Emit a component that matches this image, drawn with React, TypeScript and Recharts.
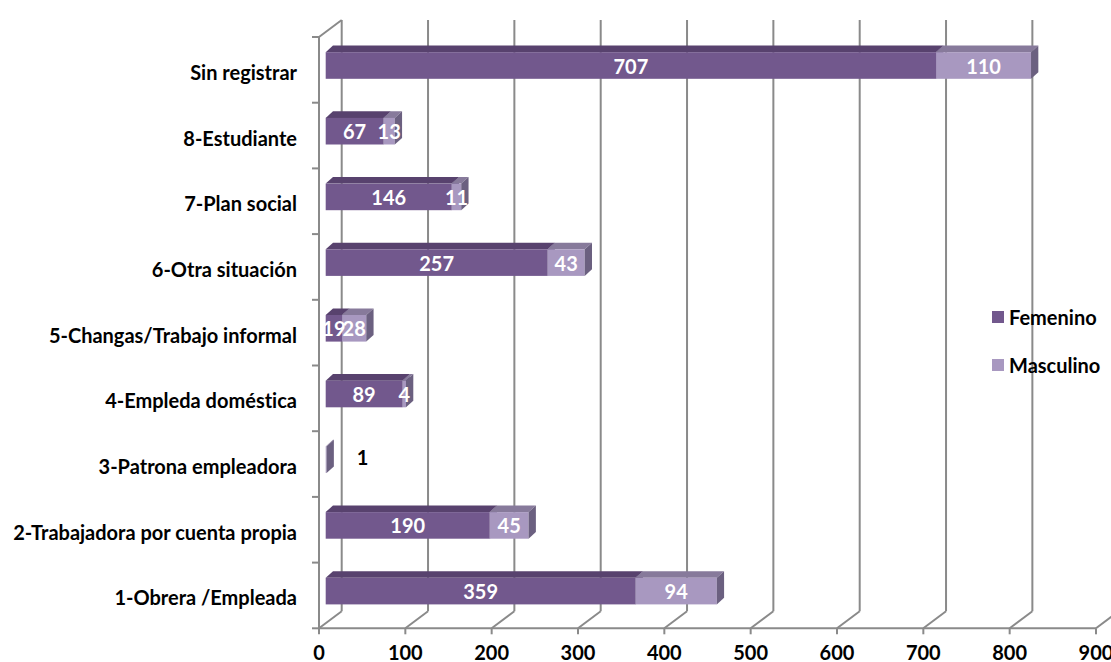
import {
  BarChart,
  Bar,
  XAxis,
  YAxis,
  CartesianGrid,
  Legend,
  LabelList,
} from 'recharts';

const CATEGORIES = [
  'Sin registrar',
  '8-Estudiante',
  '7-Plan social',
  '6-Otra situación',
  '5-Changas/Trabajo informal',
  '4-Empleda doméstica',
  '3-Patrona empleadora',
  '2-Trabajadora por cuenta propia',
  '1-Obrera /Empleada',
];
const FEMENINO = [707, 67, 146, 257, 19, 89, null, 190, 359];
const MASCULINO = [110, 13, 11, 43, 28, 4, 1, 45, 94];
const X_TICKS = [0, 100, 200, 300, 400, 500, 600, 700, 800, 900];

const data = CATEGORIES.map((name, i) => ({
  name,
  fem: FEMENINO[i],
  masc: MASCULINO[i],
}));

const FONT = 'Lato, "DejaVu Sans", sans-serif';
const TEXT_STYLE = { fontVariantLigatures: 'none' as const };
const GRID = '#8a8a8a';

// 3D offsets relative to the bar plane (the recharts plot area)
const FRONT_DX = -6.7;
const FRONT_DY = 4.8;
const BACK_DX = 16;
const BACK_DY = -12.2;
const DEPTH_X = 7.3;
const DEPTH_Y = 6.6;

const COLORS = {
  fem: { front: '#72588d', top: '#58426e', side: '#5f4c78' },
  masc: { front: '#a898c0', top: '#877a9b', side: '#6b6080' },
};

// eslint-disable-next-line @typescript-eslint/no-explicit-any
function Box3D(props: any) {
  const { x, y, width, height, front, top, side } = props;
  if (!(width > 0) || !(height > 0)) return null;
  const r = x + width;
  return (
    <g>
      <polygon
        points={`${x},${y} ${x + DEPTH_X},${y - DEPTH_Y} ${r + DEPTH_X},${y - DEPTH_Y} ${r},${y}`}
        fill={top}
      />
      <rect x={x} y={y} width={width} height={height} fill={front} />
      <polygon
        points={`${r},${y} ${r + DEPTH_X},${y - DEPTH_Y} ${r + DEPTH_X},${y + height - DEPTH_Y} ${r},${y + height}`}
        fill={side}
      />
    </g>
  );
}

// eslint-disable-next-line @typescript-eslint/no-explicit-any
function renderValue(p: any) {
  const { x, y, width, height, value } = p;
  if (value == null || value === 0) return null;
  const cy = Number(y) + Number(height) / 2;
  // too thin to hold its number: put it outside, in black
  if (Number(width) < 3) {
    return (
      <text x={Number(x) + Number(width) + 36} y={cy - 3} fill="#000" fontFamily={FONT}
        fontWeight={700} fontSize={20} textAnchor="middle" dominantBaseline="central">
        {value}
      </text>
    );
  }
  return (
    <text x={Number(x) + Number(width) / 2} y={cy} fill="#fff" fontFamily={FONT}
      fontWeight={700} fontSize={20} textAnchor="middle" dominantBaseline="central">
      {value}
    </text>
  );
}

// back-wall gridline plus its floor diagonal
// eslint-disable-next-line @typescript-eslint/no-explicit-any
function gridLine(p: any) {
  const { x1, y1, y2, index, key } = p;
  return (
    <g key={key}>
      <line x1={x1 + BACK_DX} y1={y1 + BACK_DY} x2={x1 + BACK_DX} y2={y2 + BACK_DY}
        stroke={GRID} strokeWidth={2} />
      <line x1={x1 + FRONT_DX} y1={y2 + FRONT_DY} x2={x1 + BACK_DX} y2={y2 + BACK_DY}
        stroke={GRID} strokeWidth={2} />
      {index === 0 && (
        <line x1={x1 + FRONT_DX} y1={y1 + FRONT_DY} x2={x1 + BACK_DX} y2={y1 + BACK_DY}
          stroke={GRID} strokeWidth={2} />
      )}
    </g>
  );
}

// eslint-disable-next-line @typescript-eslint/no-explicit-any
function XTick({ x, payload }: any) {
  return (
    <text x={x + FRONT_DX} y={652} fill="#000" fontFamily={FONT} fontWeight={700}
      fontSize={20} textAnchor="middle" dominantBaseline="central">
      {payload.value}
    </text>
  );
}

// eslint-disable-next-line @typescript-eslint/no-explicit-any
function YTick({ x, y, payload, index }: any) {
  const half = payload?.offset || 32.9;
  const ax = x + FRONT_DX + 8;
  return (
    <g>
      <line x1={ax - 7} x2={ax} y1={y - half + FRONT_DY} y2={y - half + FRONT_DY}
        stroke={GRID} strokeWidth={2} />
      {index === CATEGORIES.length - 1 && (
        <line x1={ax - 7} x2={ax} y1={y + half + FRONT_DY} y2={y + half + FRONT_DY}
          stroke={GRID} strokeWidth={2} />
      )}
      <text x={297} y={y + FRONT_DY + 2} fill="#000" fontFamily={FONT} fontWeight={700}
        fontSize={20} textAnchor="end" dominantBaseline="central" style={TEXT_STYLE}>
        {payload.value}
      </text>
    </g>
  );
}

// eslint-disable-next-line @typescript-eslint/no-explicit-any
function LegendBox({ payload }: any) {
  return (
    <div>
      {(payload || []).map((item: any) => (
        <div key={item.value} style={{ display: 'flex', alignItems: 'center', height: 48 }}>
          <span style={{ width: 12, height: 12, background: item.color, marginRight: 5 }} />
          <span style={{ fontFamily: FONT, fontWeight: 700, fontSize: 20, color: '#000' }}>
            {item.value}
          </span>
        </div>
      ))}
    </div>
  );
}

export default function App() {
  return (
    <div style={{ position: 'absolute', left: 0, top: 0 }}>
      <BarChart
        width={1111}
        height={662}
        data={data}
        layout="vertical"
        barSize={26.6}
        margin={{ top: 32.2, right: 8.3, bottom: 8.5, left: 0 }}
      >
        <CartesianGrid horizontal={false} vertical={gridLine} />
        <XAxis
          type="number"
          domain={[0, 900]}
          ticks={X_TICKS}
          interval={0}
          height={30}
          tick={<XTick />}
          axisLine={{ stroke: GRID, strokeWidth: 2, transform: `translate(${FRONT_DX}, ${FRONT_DY})` }}
          tickLine={{ stroke: GRID, strokeWidth: 2, transform: `translate(${FRONT_DX}, ${FRONT_DY})` }}
          tickSize={6}
        />
        <YAxis
          type="category"
          dataKey="name"
          width={325.7}
          interval={0}
          tick={<YTick />}
          tickLine={false}
          axisLine={{ stroke: GRID, strokeWidth: 2, transform: `translate(${FRONT_DX}, ${FRONT_DY})` }}
        />
        <Legend
          layout="vertical"
          align="center"
          verticalAlign="middle"
          content={<LegendBox />}
          wrapperStyle={{ left: 992, top: 293, width: 119 }}
        />
        <Bar
          dataKey="fem"
          name="Femenino"
          stackId="a"
          fill={COLORS.fem.front}
          isAnimationActive={false}
          shape={(p: any) => <Box3D {...p} {...COLORS.fem} />}
        >
          <LabelList dataKey="fem" content={renderValue} />
        </Bar>
        <Bar
          dataKey="masc"
          name="Masculino"
          stackId="a"
          fill={COLORS.masc.front}
          isAnimationActive={false}
          shape={(p: any) => <Box3D {...p} {...COLORS.masc} />}
        >
          <LabelList dataKey="masc" content={renderValue} />
        </Bar>
      </BarChart>
    </div>
  );
}
